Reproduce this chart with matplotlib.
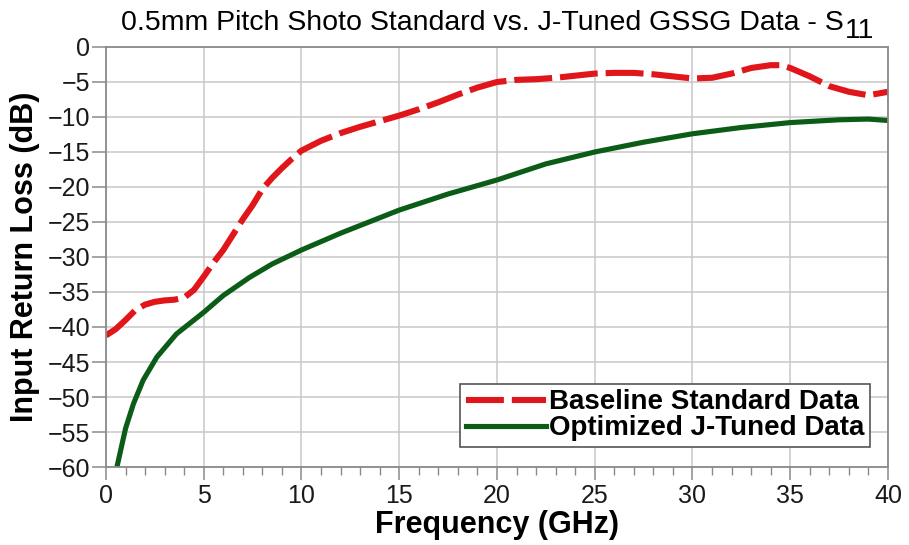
import matplotlib
matplotlib.use("Agg")
import matplotlib.pyplot as plt
from matplotlib.ticker import MultipleLocator
from matplotlib.transforms import offset_copy

# datos
freq_base = [0, 0.5, 1, 1.5, 2, 2.5, 3, 3.5, 4, 4.5, 5, 5.5, 6, 6.5, 7, 7.5, 8,
             8.5, 9, 9.5, 10, 11, 12, 13, 14, 15, 16, 17, 18, 19, 20, 21, 22,
             23, 24, 25, 26, 27, 28, 29, 30, 31, 32, 33, 34, 34.5, 35, 36, 37,
             38, 39, 40]
s11_base = [-41.2, -40.3, -39.0, -37.6, -36.8, -36.4, -36.2, -36.1, -35.8,
            -34.7, -32.8, -30.8, -29.0, -26.8, -24.6, -22.6, -20.3, -18.7,
            -17.3, -16.0, -14.8, -13.4, -12.3, -11.4, -10.6, -9.8, -8.9, -7.9,
            -6.8, -5.8, -5.0, -4.7, -4.6, -4.4, -4.1, -3.8, -3.7, -3.7, -3.9,
            -4.2, -4.5, -4.4, -3.8, -3.0, -2.6, -2.6, -3.0, -4.2, -5.6, -6.4,
            -6.9, -6.4]

freq_opt = [0.56, 0.8, 1.0, 1.4, 1.9, 2.6, 3.6, 5, 6, 7.35, 8.5, 10, 12, 15,
            17.5, 20, 22.5, 25, 27.5, 30, 32.5, 35, 37.5, 39, 40]
s11_opt = [-60, -57, -54.5, -51, -47.6, -44.3, -41, -37.9, -35.5, -32.9,
           -31.0, -29.0, -26.6, -23.3, -21.0, -19.0, -16.7, -15.0, -13.6,
           -12.4, -11.5, -10.8, -10.4, -10.3, -10.5]

titulo = "0.5mm Pitch Shoto Standard vs. J-Tuned GSSG Data - S"
subindice = "11"

plt.rcParams["font.family"] = ["Liberation Sans", "DejaVu Sans"]

fig = plt.figure(figsize=(9.09, 5.45), dpi=100)
ax = fig.add_axes([0.1166, 0.1431, 0.8603, 0.7707])

linea_b, = ax.plot(freq_base, s11_base, color="#e0161b", lw=4.4,
                   label="Baseline Standard Data", solid_capstyle="butt")
linea_b.set_dashes([6.2, 1.3])
ax.plot(freq_opt, s11_opt, color="#0b5c16", lw=3.7,
        label="Optimized J-Tuned Data")

ax.set_xlim(0, 40)
ax.set_ylim(-60, 0)
ax.xaxis.set_major_locator(MultipleLocator(5))
ax.xaxis.set_minor_locator(MultipleLocator(1))
ax.yaxis.set_major_locator(MultipleLocator(5))
ax.grid(True, which="major", color="#c8c8c8", lw=1.1)
ax.set_axisbelow(True)

for s in ax.spines.values():
    s.set_color("#8a8a8a")
    s.set_linewidth(1.3)
ax.tick_params(which="major", length=10, width=1.1, color="#8a8a8a",
               labelsize=18, pad=1.5, labelcolor="#1a1a1a")
ax.tick_params(axis="x", which="major", length=9.5, pad=3)
ax.tick_params(which="minor", length=6, width=1.0, color="#8a8a8a")
ax.tick_params(axis="y", which="minor", left=False)

ax.set_xlabel("Frequency (GHz)", fontsize=22, fontweight="bold", labelpad=1)
ax.set_ylabel("Input Return Loss (dB)", fontsize=22, fontweight="bold",
              labelpad=5)

# título con el subíndice a tamaño completo, desplazado hacia abajo
t_main = fig.text(0.5, 545 - 30, titulo, fontsize=20.5, ha="left",
                  va="baseline", transform=None)
t_sub = fig.text(0, 0, subindice, fontsize=20.5, ha="left", va="baseline",
                 transform=None)
fig.canvas.draw()
r = fig.canvas.get_renderer()
w_main = t_main.get_window_extent(r).width
w_sub = t_sub.get_window_extent(r).width
centro = ax.get_window_extent(r).x0 + ax.get_window_extent(r).width / 2
x0 = centro - (w_main + w_sub) / 2
t_main.set_position((x0, 545 - 30))
t_sub.set_position((x0 + w_main + 1, 545 - 38))

leg = ax.legend(loc="lower right", bbox_to_anchor=(0.977, 0.048),
                fontsize=20, handlelength=2.9, handletextpad=0.1,
                borderpad=0.2, labelspacing=0.0, fancybox=False,
                framealpha=1, borderaxespad=0)
for t in leg.get_texts():
    t.set_fontweight("bold")
leg.get_frame().set_edgecolor("#555555")
leg.get_frame().set_linewidth(1.2)

fig.savefig("out.png", dpi=100)
plt.close(fig)
